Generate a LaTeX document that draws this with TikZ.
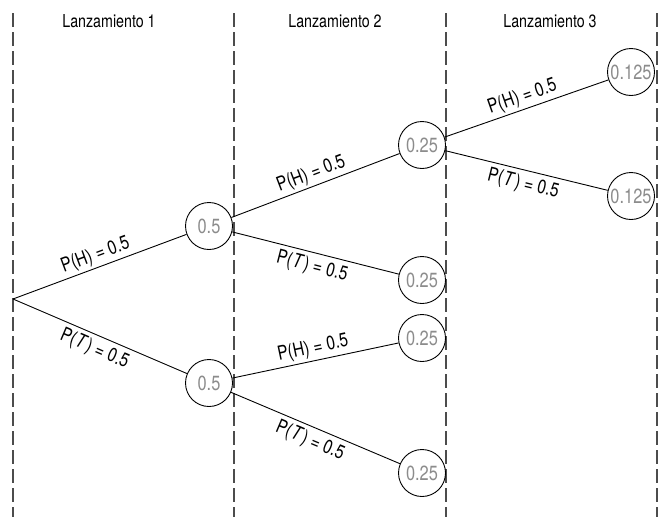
\documentclass[tikz,border=0pt]{standalone}
\usepackage{fontspec}
\setmainfont{TeX Gyre Heros}[FakeStretch=0.8]
\newcommand{\tlab}{P(\kern0.6pt\textit{T}\kern0.8pt) = 0.5}
\begin{document}
\begin{tikzpicture}[x=1pt,y=-1pt,
  prob/.style={circle,draw=black,line width=0.9pt,minimum size=47pt,inner sep=0pt,
    text=black!45,font=\fontsize{20.5}{22}\selectfont},
  branch/.style={draw=black,line width=0.9pt},
  elabel/.style={sloped,midway,inner sep=2.5pt,font=\fontsize{19.5}{22}\selectfont},
  blabel/.style={elabel,below,inner sep=4.5pt},
  divider/.style={draw=black!70,line width=1.1pt,dash pattern=on 14pt off 5pt},
  head/.style={font=\fontsize{17.8}{20}\selectfont,anchor=base}]
\useasboundingbox (0,0) rectangle (663,517);
% dividers
\foreach \x/\n in {13/a,234/b,446/c,657/d}{
  \coordinate (top\n) at (\x,13);
  \coordinate (bot\n) at (\x,517);
  \draw[divider] (top\n) -- (bot\n);
}
% headings
\node[head] (h1) at (109,27.5) {Lanzamiento 1};
\node[head] (h2) at (335,27.5) {Lanzamiento 2};
\node[head] (h3) at (550,27.5) {Lanzamiento 3};
% nodes
\coordinate (root) at (13,299);
\node[prob] (a) at (209,226) {0.5};
\node[prob] (b) at (209,383) {0.5};
\node[prob] (aa) at (422,145) {0.25};
\node[prob] (ab) at (422,280) {0.25};
\node[prob] (ba) at (422,338) {0.25};
\node[prob] (bb) at (422,473) {0.25};
\node[prob] (aaa) at (631,72) {0.125};
\node[prob] (aab) at (631,196) {0.125};
% branches
\draw[branch] (root) -- node[elabel,above] (l1) {P(H) = 0.5} (a);
\draw[branch] (root) -- node[blabel] (l2) {\tlab} (b);
\draw[branch] (a) -- node[elabel,above] (l3) {P(H) = 0.5} (aa);
\draw[branch] (a) -- node[blabel] (l4) {\tlab} (ab);
\draw[branch] (b) -- node[elabel,above] (l5) {P(H) = 0.5} (ba);
\draw[branch] (b) -- node[blabel] (l6) {\tlab} (bb);
\draw[branch] (aa) -- node[elabel,above] (l7) {P(H) = 0.5} (aaa);
\draw[branch] (aa) -- node[blabel] (l8) {\tlab} (aab);
\end{tikzpicture}
\end{document}
